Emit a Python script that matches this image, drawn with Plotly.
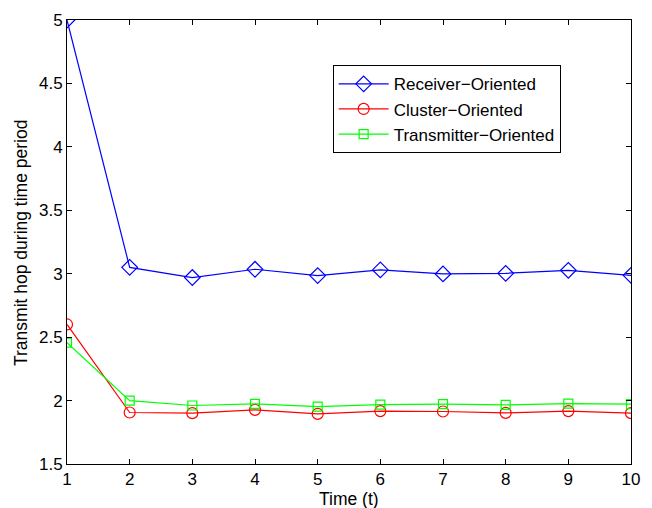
import plotly.graph_objects as go

# Time periods and average transmit hops for each routing strategy
time_t = [1, 2, 3, 4, 5, 6, 7, 8, 9, 10]
receiver_oriented = [5.0, 3.05, 2.97, 3.035, 2.985, 3.03, 2.998, 3.003, 3.027, 2.987]
cluster_oriented = [2.60, 1.906, 1.901, 1.927, 1.895, 1.917, 1.914, 1.903, 1.917, 1.901]
transmitter_oriented = [2.457, 2.0, 1.961, 1.974, 1.953, 1.968, 1.972, 1.966, 1.976, 1.972]

x_ticks = [1, 2, 3, 4, 5, 6, 7, 8, 9, 10]
y_ticks = [1.5, 2, 2.5, 3, 3.5, 4, 4.5, 5]
y_tick_labels = ["1.5", "2", "2.5", "3", "3.5", "4", "4.5", "5"]

series = [
    ("Receiver\u2212Oriented", receiver_oriented, "#0000ff", "diamond-open", 12),
    ("Cluster\u2212Oriented", cluster_oriented, "#ff0000", "circle-open", 11),
    ("Transmitter\u2212Oriented", transmitter_oriented, "#00ff00", "square-open", 9),
]

FONT = "Liberation Sans, Arial, sans-serif"
W, H = 652, 508
M = dict(l=67, r=21, t=20, b=44)

fig = go.Figure()
for name, values, color, symbol, size in series:
    fig.add_trace(go.Scatter(
        x=time_t, y=values, name=name, mode="lines+markers",
        line=dict(color=color, width=1.2),
        marker=dict(symbol=symbol, size=size, color=color, line=dict(color=color, width=1.2)),
    ))

axis_common = dict(
    showgrid=False, zeroline=False, showline=True, linecolor="black", linewidth=1,
    mirror="ticks", ticks="inside", ticklen=5, tickcolor="black", tickwidth=1,
    tickfont=dict(family=FONT, size=17, color="black"), automargin=False,
)

plot_h = H - M["t"] - M["b"]

# Axis titles placed as paper annotations so they sit at fixed offsets
fig.add_annotation(text="Time (t)", xref="paper", yref="paper",
                   x=0.5, y=-(499 - (H - M["b"])) / plot_h,
                   xanchor="center", yanchor="middle", showarrow=False,
                   font=dict(family=FONT, size=17.5, color="black"))
fig.add_annotation(text="Transmit hop during time period", xref="paper", yref="paper",
                   x=-(M["l"] - 21) / (W - M["l"] - M["r"]),
                   y=(H - M["b"] - 243) / plot_h,
                   xanchor="center", yanchor="middle", textangle=-90, showarrow=False,
                   font=dict(family=FONT, size=17.5, color="black"))

fig.update_layout(
    width=W, height=H,
    margin=M,
    paper_bgcolor="white", plot_bgcolor="white",
    font=dict(family=FONT, size=17, color="black"),
    xaxis=dict(range=[1, 10], tickvals=x_ticks, **axis_common),
    yaxis=dict(range=[1.5, 5], tickvals=y_ticks, ticktext=y_tick_labels, **axis_common),
    legend=dict(
        x=0.471, y=0.898, xanchor="left", yanchor="top",
        bordercolor="black", borderwidth=1, bgcolor="white",
        font=dict(size=17), itemwidth=50, tracegroupgap=0,
    ),
    showlegend=True,
)

fig.write_html("out.html")
